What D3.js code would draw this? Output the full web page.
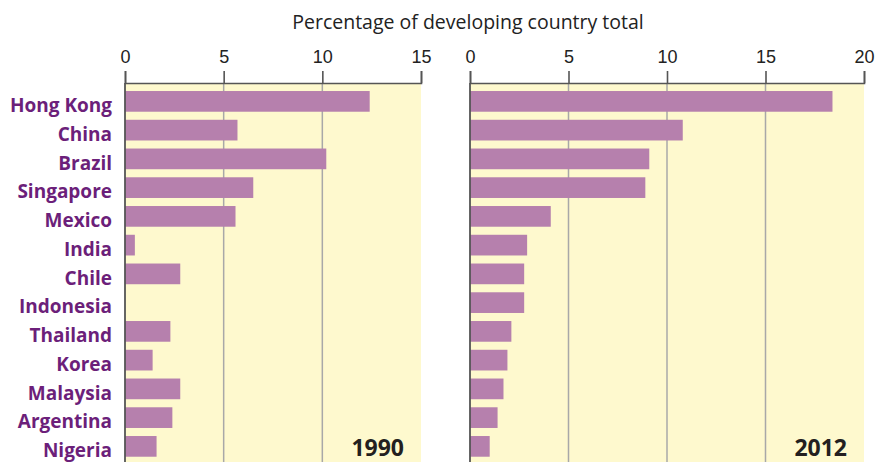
<!DOCTYPE html>
<html>
<head>
<meta charset="utf-8">
<script src="https://cdn.jsdelivr.net/npm/d3@7"></script>
<style>
  body { margin: 0; background: #fff; }
  svg { display: block; font-family: "Open Sans", "Noto Sans", sans-serif; }
</style>
</head>
<body>
<svg id="chart"></svg>
<script>
"use strict";

var width = 875;
var height = 462;

// data
var countries = ["Hong Kong", "China", "Brazil", "Singapore", "Mexico", "India", "Chile",
  "Indonesia", "Thailand", "Korea", "Malaysia", "Argentina", "Nigeria"];
var share1990 = [12.4, 5.7, 10.2, 6.5, 5.6, 0.5, 2.8, 0, 2.3, 1.4, 2.8, 2.4, 1.6];
var share2012 = [18.4, 10.8, 9.1, 8.9, 4.1, 2.9, 2.75, 2.75, 2.1, 1.9, 1.7, 1.4, 1.0];
var ticks1990 = [0, 5, 10, 15];
var ticks2012 = [0, 5, 10, 15, 20];
var axisTitle = "Percentage of developing country total";

var svg = d3.select("#chart").attr("width", width).attr("height", height);

var axisY = 83;

var y = d3.scaleBand().domain(countries).range([87, 460.75]).paddingInner(0.28).paddingOuter(0.14);

var drawPanel = function drawPanel(values, ticks, x0, x1, year) {
  var max = ticks[ticks.length - 1];
  var x = d3.scaleLinear().domain([0, max]).range([x0, x1]);
  var g = svg.append("g");

  g.append("rect").attr("x", x0).attr("y", axisY).attr("width", x1 - x0).attr("height", height - axisY)
    .attr("fill", "#fef9ce");

  // gridlines, not at the right edge
  g.selectAll(".grid").data(ticks.filter(function (t) { return t > 0 && t < max; })).enter()
    .append("line").attr("class", "grid")
    .attr("x1", function (d) { return x(d); }).attr("x2", function (d) { return x(d); })
    .attr("y1", axisY).attr("y2", height)
    .attr("stroke", "#a8a8a8").attr("stroke-width", 1.5);

  g.selectAll(".bar").data(values).enter().append("rect").attr("class", "bar")
    .attr("x", x(0)).attr("y", function (d, i) { return y(countries[i]); })
    .attr("width", function (d) { return x(d) - x(0); })
    .attr("height", y.bandwidth())
    .attr("fill", "#b680ad");

  var axis = g.append("g").attr("transform", "translate(0," + axisY + ")")
    .call(d3.axisTop(x).tickValues(ticks).tickSize(12).tickPadding(8).tickFormat(d3.format("d")));
  axis.select(".domain").attr("stroke", "#555").attr("stroke-width", 1.6);
  axis.selectAll(".tick line").attr("stroke", "#555").attr("stroke-width", 1.6);
  axis.selectAll(".tick text").attr("fill", "#222").style("font-size", "18px").attr("font-family", null);

  g.append("line").attr("x1", x0).attr("x2", x0).attr("y1", axisY).attr("y2", height)
    .attr("stroke", "#555").attr("stroke-width", 1.8);

  g.append("text").attr("x", x1 - 17).attr("y", 456).attr("text-anchor", "end")
    .attr("fill", "#231f20").style("font-size", "23px").style("font-weight", "bold")
    .text(year);
};

drawPanel(share1990, ticks1990, 125, 421, "1990");
drawPanel(share2012, ticks2012, 470, 864, "2012");

svg.selectAll(".country").data(countries).enter().append("text").attr("class", "country")
  .attr("x", 112).attr("y", function (d) { return y(d) + y.bandwidth() / 2; })
  .attr("dy", "0.57em").attr("text-anchor", "end")
  .attr("fill", "#6c1f7a").style("font-size", "19px").style("font-weight", "bold")
  .text(function (d) { return d; });

svg.append("text").attr("x", 468).attr("y", 29).attr("text-anchor", "middle")
  .attr("fill", "#222").style("font-size", "19.5px")
  .text(axisTitle);
</script>
</body>
</html>
